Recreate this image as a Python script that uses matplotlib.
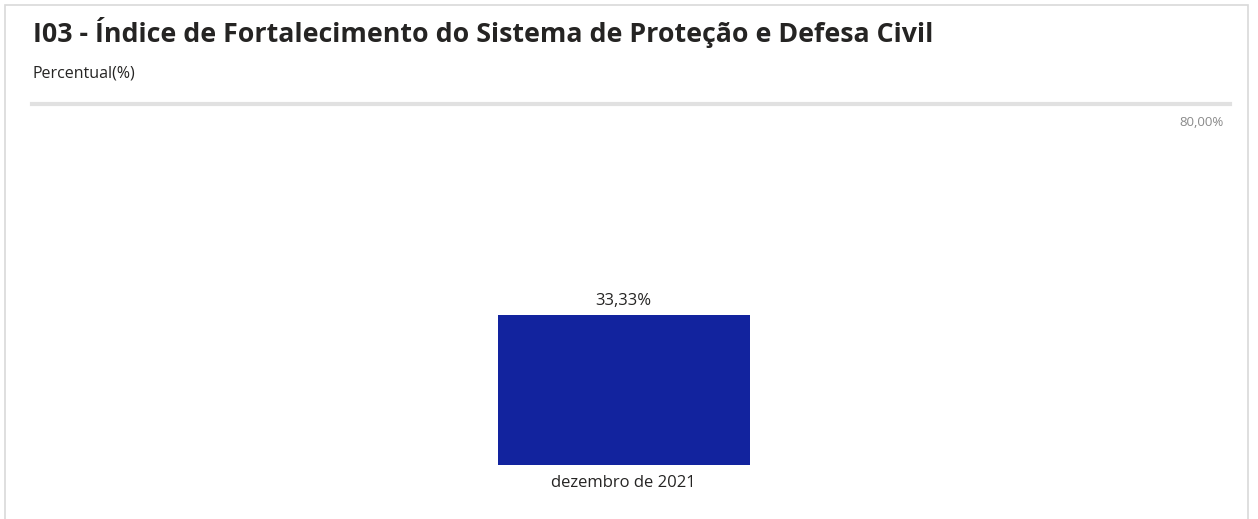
import matplotlib.pyplot as plt
from matplotlib.patches import Rectangle

categories = ["dezembro de 2021"]
values = [33.33]
target = 80.0

W, H = 1258, 519
fig = plt.figure(figsize=(W / 100, H / 100), dpi=100)
plt.rcParams['font.family'] = ['Open Sans', 'DejaVu Sans']

# card border
fig.patches.append(Rectangle((5 / W, -0.05), 1243 / W, (H - 5) / H + 0.05,
                             transform=fig.transFigure, fill=False,
                             edgecolor='#d9d9d9', linewidth=1.2))

fig.text(33 / W, 1 - 33 / H, "I03 - Índice de Fortalecimento do Sistema de Proteção e Defesa Civil",
         fontsize=19.3, fontweight='bold', color='#252423', va='center', ha='left')
fig.text(33 / W, 1 - 73 / H, "Percentual(%)", fontsize=11.5, color='#252423', va='center', ha='left')

ax = fig.add_axes([32 / W, 54 / H, 1198 / W, (465 - 104) / H])
x = list(range(len(categories)))
bars = ax.bar(x, values, width=0.21, color='#12239E')
ax.set_xlim(-0.494, 0.506)
ax.set_ylim(0, target)
ax.axhline(target, color='#e1e1e1', linewidth=3, clip_on=False)
ax.text(0.995, target - 4.2, f"{target:.2f}%".replace(".", ","),
        transform=ax.get_yaxis_transform(), ha='right', va='center', fontsize=9.5, color='#8a8a8a')

for b, v in zip(bars, values):
    ax.annotate(f"{v:.2f}%".replace(".", ","), (b.get_x() + b.get_width() / 2, v),
                xytext=(0, 4), textcoords='offset points', ha='center', va='bottom',
                fontsize=12, color='#252423')

ax.set_xticks(x)
ax.set_xticklabels(categories, fontsize=12, color='#252423')
ax.tick_params(axis='x', length=0, pad=7)
ax.set_yticks([])
for s in ax.spines.values():
    s.set_visible(False)

fig.savefig("out.png", dpi=100)
